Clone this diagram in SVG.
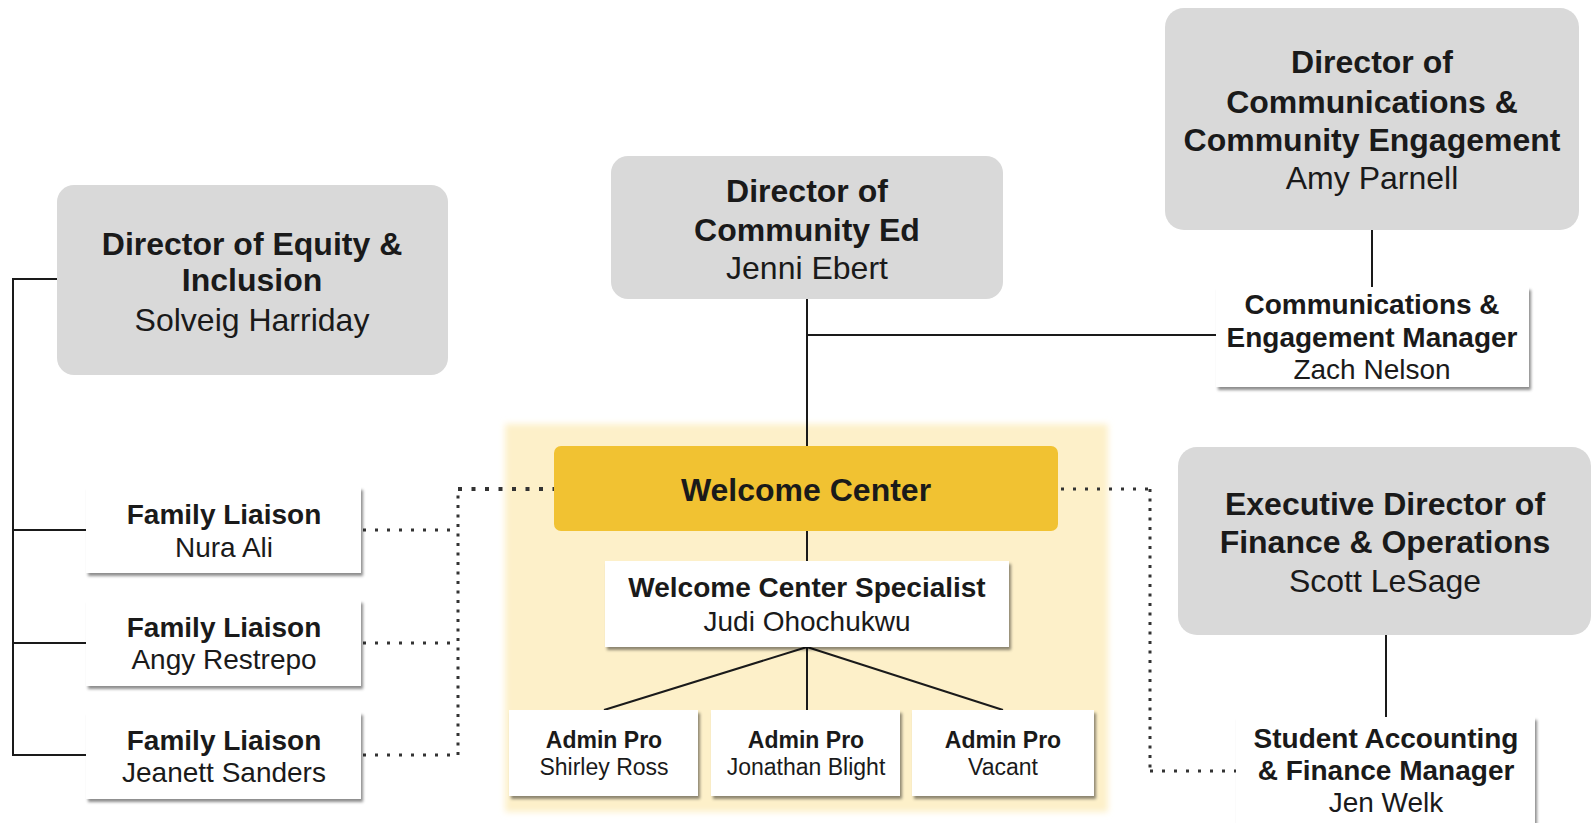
<svg xmlns="http://www.w3.org/2000/svg" width="1591" height="823" viewBox="0 0 1591 823">
<defs>
<filter id="sh" x="-10%" y="-10%" width="125%" height="130%">
<feDropShadow dx="2" dy="3" stdDeviation="1.5" flood-color="#000" flood-opacity="0.45"/>
</filter>
<filter id="soft" x="-5%" y="-5%" width="110%" height="110%">
<feGaussianBlur stdDeviation="3"/>
</filter>
</defs>
<style>
text{font-family:"Liberation Sans",Arial,sans-serif;fill:#1a1a1a;text-anchor:middle}
.b{font-weight:bold}
.gray{fill:#d9d9d9}
.white{fill:#fff;filter:url(#sh)}
.ln{stroke:#1a1a1a;stroke-width:2;fill:none}
.dot{stroke:#333;stroke-width:3;fill:none}
.h{stroke-dasharray:3 9}
.v{stroke-dasharray:3 6.5}
.t32{font-size:32px}
.t28{font-size:28px}
.t23{font-size:23px}
</style>
<rect width="1591" height="823" fill="#fff"/>
<rect x="505" y="424" width="603" height="388" fill="#fdf0c9" filter="url(#soft)"/>
<g id="connectors">
<path class="ln" d="M57 279H13V755H86M13 530H86M13 643H86"/>
<path class="ln" d="M807 299V447M807 335H1216M1372 230V287"/>
<path class="ln" d="M807 531V561M807 647L604 710M807 647V710M807 647L1003 710"/>
<path class="ln" d="M1386 635V717"/>
<path class="dot h" d="M363 530H458M363 643H458M363 755H458"/>
<path class="dot v" d="M458 755V489"/>
<path class="dot" style="stroke-width:4;stroke-dasharray:4 9.5" d="M458 489H554"/>
<path class="dot h" d="M1061 489H1150"/>
<path class="dot v" d="M1150 489V771"/>
<path class="dot h" d="M1150 771H1236"/>
</g>
<g id="equity">
<rect class="gray" x="57" y="185" width="391" height="190" rx="17"/>
<text class="b t32" x="252" y="255">Director of Equity &amp;</text>
<text class="b t32" x="252" y="291">Inclusion</text>
<text class="t32" x="252" y="331">Solveig Harriday</text>
</g>
<g id="community-ed">
<rect class="gray" x="611" y="156" width="392" height="143" rx="17"/>
<text class="b t32" x="807" y="202">Director of</text>
<text class="b t32" x="807" y="241">Community Ed</text>
<text class="t32" x="807" y="279">Jenni Ebert</text>
</g>
<g id="communications-director">
<rect class="gray" x="1165" y="8" width="414" height="222" rx="19"/>
<text class="b t32" x="1372" y="73">Director of</text>
<text class="b t32" x="1372" y="113">Communications &amp;</text>
<text class="b t32" x="1372" y="151">Community Engagement</text>
<text class="t32" x="1372" y="189">Amy Parnell</text>
</g>
<g id="communications-manager">
<rect class="white" x="1216" y="287" width="313" height="100"/>
<text class="b t28" x="1372" y="314">Communications &amp;</text>
<text class="b t28" x="1372" y="347">Engagement Manager</text>
<text class="t28" x="1372" y="379">Zach Nelson</text>
</g>
<g id="finance-director">
<rect class="gray" x="1178" y="447" width="413" height="188" rx="19"/>
<text class="b t32" x="1385" y="515">Executive Director of</text>
<text class="b t32" x="1385" y="553">Finance &amp; Operations</text>
<text class="t32" x="1385" y="592">Scott LeSage</text>
</g>
<g id="finance-manager">
<rect class="white" x="1236" y="717" width="299" height="106"/>
<text class="b t28" x="1386" y="748">Student Accounting</text>
<text class="b t28" x="1386" y="780">&amp; Finance Manager</text>
<text class="t28" x="1386" y="812">Jen Welk</text>
</g>
<g id="welcome-center">
<rect x="554" y="446" width="504" height="85" rx="7" fill="#f1c232"/>
<text class="b t32" x="806" y="501">Welcome Center</text>
</g>
<g id="specialist">
<rect class="white" x="605" y="561" width="404" height="86"/>
<text class="b t28" x="807" y="597">Welcome Center Specialist</text>
<text class="t28" x="807" y="631">Judi Ohochukwu</text>
</g>
<g id="admin-shirley">
<rect class="white" x="509" y="710" width="189" height="86"/>
<text class="b t23" x="604" y="748">Admin Pro</text>
<text class="t23" x="604" y="775">Shirley Ross</text>
</g>
<g id="admin-jonathan">
<rect class="white" x="711" y="710" width="189" height="86"/>
<text class="b t23" x="806" y="748">Admin Pro</text>
<text class="t23" x="806" y="775">Jonathan Blight</text>
</g>
<g id="admin-vacant">
<rect class="white" x="912" y="710" width="182" height="86"/>
<text class="b t23" x="1003" y="748">Admin Pro</text>
<text class="t23" x="1003" y="775">Vacant</text>
</g>
<g id="liaison-nura">
<rect class="white" x="86" y="487" width="275" height="86"/>
<text class="b t28" x="224" y="524">Family Liaison</text>
<text class="t28" x="224" y="557">Nura Ali</text>
</g>
<g id="liaison-angy">
<rect class="white" x="86" y="600" width="275" height="86"/>
<text class="b t28" x="224" y="637">Family Liaison</text>
<text class="t28" x="224" y="669">Angy Restrepo</text>
</g>
<g id="liaison-jeanett">
<rect class="white" x="86" y="712" width="275" height="87"/>
<text class="b t28" x="224" y="750">Family Liaison</text>
<text class="t28" x="224" y="782">Jeanett Sanders</text>
</g>
</svg>
